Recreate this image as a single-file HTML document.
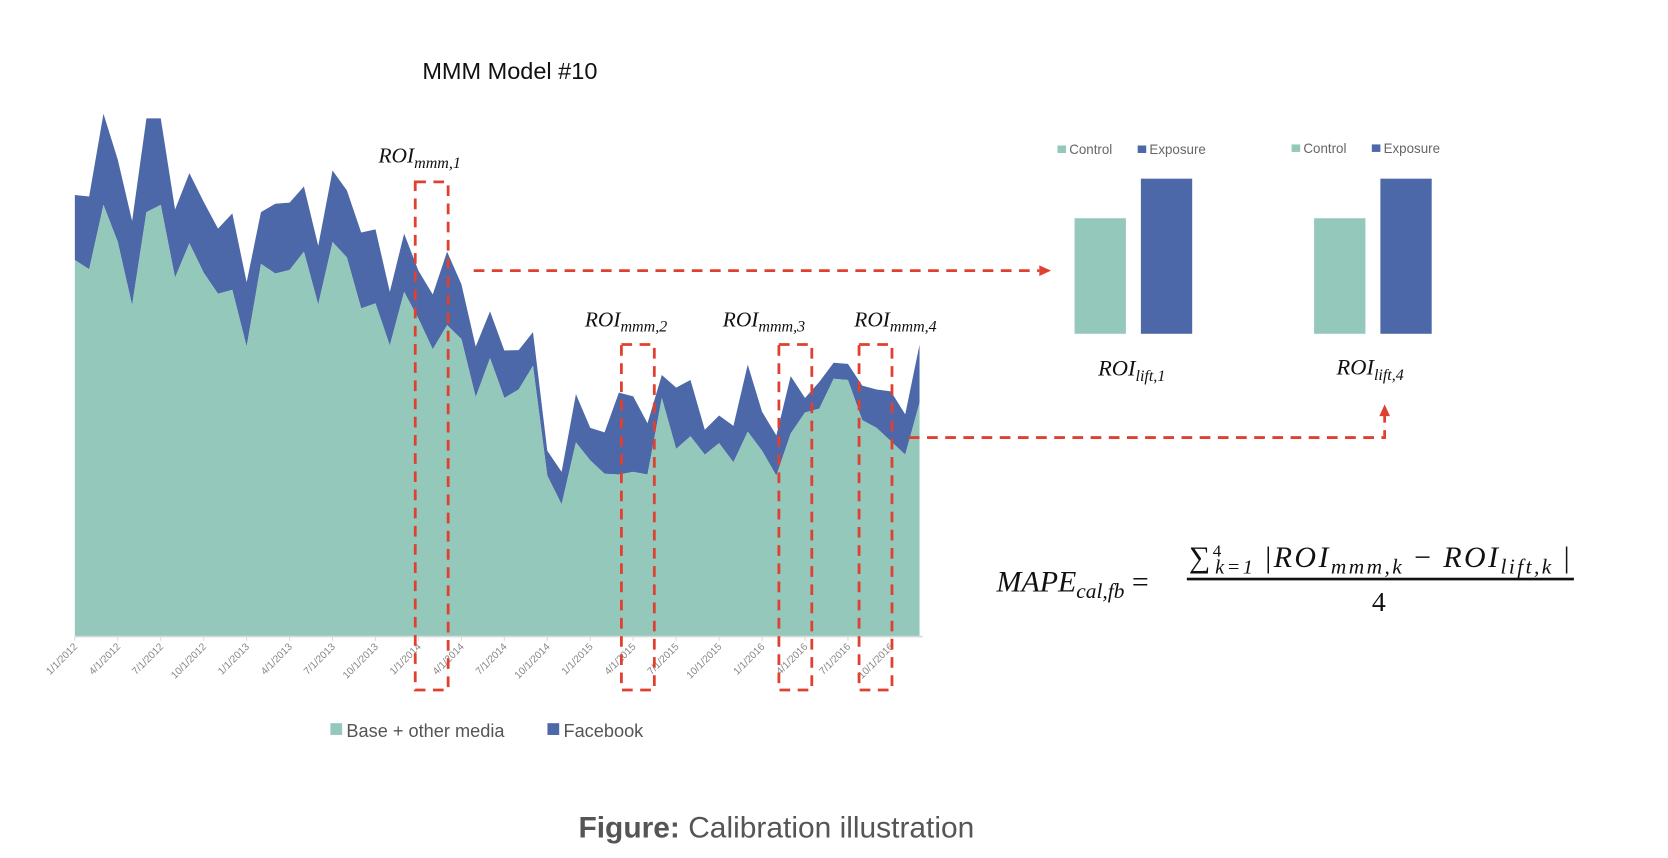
<!DOCTYPE html>
<html><head><meta charset="utf-8"><style>
html,body{margin:0;padding:0;background:#fff;}
svg{display:block;}
.it{font-family:"Liberation Serif",serif;font-style:italic;}
.sans{font-family:"Liberation Sans",sans-serif;}
</style></head><body>
<svg id="fig" width="1668" height="858" viewBox="0 0 1560 802" preserveAspectRatio="none" xmlns="http://www.w3.org/2000/svg">
<text class="sans" x="395" y="74" font-size="22" fill="#111">MMM Model #10</text>
<g id="area"></g>
<g id="ticks"></g>
<g class="sans" font-size="17" fill="#555">
<rect x="309" y="676" width="11" height="11" fill="#93c8bb"/>
<text x="324" y="689">Base + other media</text>
<rect x="512" y="676" width="11" height="11" fill="#4c68a8"/>
<text x="527" y="689">Facebook</text>
</g>
<g id="boxes" fill="none" stroke="#e0402f" stroke-width="2.6" stroke-dasharray="10,7"></g>
<g class="it" font-size="20" fill="#111">
<text x="354" y="152">ROI<tspan font-size="15" dy="5">mmm,1</tspan></text>
<text x="547" y="305">ROI<tspan font-size="15" dy="5">mmm,2</tspan></text>
<text x="676" y="305">ROI<tspan font-size="15" dy="5">mmm,3</tspan></text>
<text x="799" y="305">ROI<tspan font-size="15" dy="5">mmm,4</tspan></text>
</g>
<g fill="none" stroke="#e0402f" stroke-width="2.6" stroke-dasharray="10,7">
<path d="M443 253 H972"/>
<path d="M850 409 H1295 V388"/>
</g>
<polygon points="972,248 983,253 972,258" fill="#e0402f"/>
<polygon points="1290,389 1295,378 1300,389" fill="#e0402f"/>
<g id="bars"></g>
<g class="sans" font-size="12.5" fill="#666">
<rect x="989" y="136" width="8" height="7" fill="#93c8bb"/><text x="1000" y="144">Control</text>
<rect x="1064" y="136" width="8" height="7" fill="#4c68a8"/><text x="1075" y="144">Exposure</text>
<rect x="1208" y="135" width="8" height="7" fill="#93c8bb"/><text x="1219" y="143">Control</text>
<rect x="1283" y="135" width="8" height="7" fill="#4c68a8"/><text x="1294" y="143">Exposure</text>
</g>
<g class="it" font-size="21" fill="#111">
<text x="1027" y="351">ROI<tspan font-size="15" dy="5">lift,1</tspan></text>
<text x="1250" y="350">ROI<tspan font-size="15" dy="5">lift,4</tspan></text>
</g>
<g class="it" fill="#111">
<text x="932" y="553" font-size="28">MAPE<tspan font-size="20" dy="6">cal,fb</tspan><tspan dy="-6" font-style="normal"> =</tspan></text>
<text x="1112" y="530" font-size="28" textLength="356" lengthAdjust="spacing"><tspan font-style="normal">∑</tspan><tspan font-size="16" dy="-10" font-style="normal">4</tspan><tspan font-size="19" dx="-8" dy="16">k=1</tspan><tspan dy="-6" font-style="normal"> |</tspan>ROI<tspan font-size="20" dy="6">mmm,k</tspan><tspan dy="-6" font-style="normal"> − </tspan>ROI<tspan font-size="20" dy="6">lift,k</tspan><tspan dy="-6" font-style="normal">  |</tspan></text>
<rect x="1110" y="540" width="362" height="2.5" fill="#111"/>
<text x="1283" y="571" font-size="26" font-style="normal">4</text>
</g>
<text class="sans" x="541" y="783" font-size="28" fill="#555"><tspan font-weight="bold">Figure:</tspan> Calibration illustration</text>
</svg>
<script>
const tickLabels = ["1/1/2012","4/1/2012","7/1/2012","10/1/2012","1/1/2013","4/1/2013","7/1/2013","10/1/2013","1/1/2014","4/1/2014","7/1/2014","10/1/2014","1/1/2015","4/1/2015","7/1/2015","10/1/2015","1/1/2016","4/1/2016","7/1/2016","10/1/2016"];
const baseValues = [983,959,1127,1030,865,1108,1127,937,1027,950,895,905,757,973,948,957,1005,867,1030,990,857,870,760,900,830,750,813,777,625,727,623,645,707,420,345,507,460,425,423,430,423,623,490,523,475,505,455,535,485,420,530,585,595,673,670,565,545,510,475,610];
const facebookValues = [170,190,238,215,220,245,226,178,183,185,170,200,168,135,182,176,170,153,187,175,198,193,140,152,125,143,192,143,132,122,124,103,88,65,85,126,85,108,214,197,134,60,160,147,65,72,95,175,102,105,150,38,70,42,42,90,100,130,105,152];
const roiWindows = [24,38.4,49.4,55];
const liftCategories = ["Control","Exposure"];
const lift1Values = [108,145];
const lift4Values = [108,145];

const NS="http://www.w3.org/2000/svg";
const x0=70, x1=860, y0=595;
const xs=i=>x0+(x1-x0)*i/(baseValues.length-1);
const ys=v=>y0-v*0.358;
function mk(tag,attrs,parent){const e=document.createElementNS(NS,tag);for(const k in attrs)e.setAttribute(k,attrs[k]);parent.appendChild(e);return e;}
const area=document.getElementById('area');
const topPts=[], basePts=[];
baseValues.forEach((b,i)=>{basePts.push(xs(i)+','+ys(b));topPts.push(xs(i)+','+ys(b+facebookValues[i]));});
const fb=mk('polygon',{points:topPts.join(' ')+' '+basePts.slice().reverse().join(' '),fill:'#4c68a8'},area);


const bs=mk('polygon',{points:xs(0)+','+y0+' '+basePts.join(' ')+' '+xs(baseValues.length-1)+','+y0,fill:'#93c8bb'},area);


const ax=mk('line',{x1:x0,x2:x1+3,y1:y0,y2:y0,stroke:'#d9d9d9','stroke-width':1.5},area);


const ticks=document.getElementById('ticks');
tickLabels.forEach((t,k)=>{
  const x=xs(k*3);
  const tl=mk('line',{x1:x,x2:x,y1:y0,y2:y0+4,stroke:'#d9d9d9'},ticks);
  
  
  const tx=mk('text',{x:x+3,y:y0+10,'font-size':9.5,fill:'#888','text-anchor':'end','font-family':'Liberation Sans, sans-serif',transform:`rotate(-45 ${x+3} ${y0+10})`},ticks);
  tx.textContent=t;
  
  
});
const boxes=document.getElementById('boxes');
const boxTops=[170,322,322,322];
roiWindows.forEach((i,k)=>{
  const xa=xs(i)-3, xb=xs(i+2)+1;
  const r=mk('rect',{x:xa,y:boxTops[k],width:xb-xa,height:645-boxTops[k]},boxes);
  
  
});
const bars=document.getElementById('bars');
const colors=['#93c8bb','#4c68a8'];
[[lift1Values,1005],[lift4Values,1229]].forEach(([vals,bx],g)=>{
  vals.forEach((v,j)=>{
    const r=mk('rect',{x:bx+j*62,y:312-v,width:48,height:v,fill:colors[j]},bars);
    
    
  });
});
</script>
</body></html>
